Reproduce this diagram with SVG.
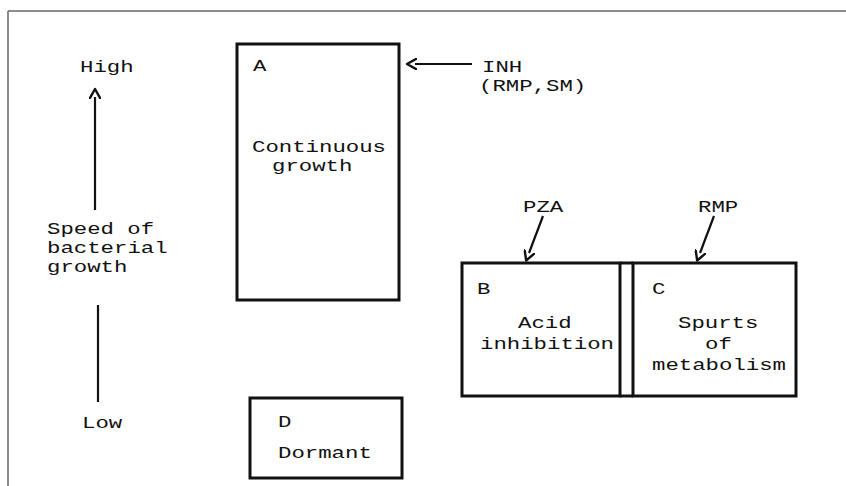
<svg xmlns="http://www.w3.org/2000/svg" width="846" height="486" viewBox="0 0 846 486">
  <style>
    .t { font-family: "Liberation Mono", "DejaVu Sans Mono", monospace; font-size: 16px; fill: #111; }
    .box { fill: none; stroke: #111; stroke-width: 3; }
    .ln { fill: none; stroke: #111; stroke-width: 2.2; }
    .frame { fill: none; stroke: #666; stroke-width: 1.5; }
  </style>
  <defs>
    <marker id="head" viewBox="0 0 12 12" refX="2" refY="6" markerWidth="12" markerHeight="12" markerUnits="userSpaceOnUse" orient="auto">
      <path d="M11,1 L2,6 L11,11" fill="none" stroke="#111" stroke-width="2.4" stroke-linecap="round" stroke-linejoin="round" transform="rotate(180 6 6)"/>
    </marker>
  </defs>
  <rect width="846" height="486" fill="#fff"/>
  <g id="frame">
    <line class="frame" x1="8" y1="11" x2="846" y2="11"/>
    <line class="frame" x1="8" y1="11" x2="8" y2="486"/>
  </g>

  <g id="axis">
    <text class="t" x="80" y="72" textLength="53.6" lengthAdjust="spacingAndGlyphs">High</text>
    <text class="t" x="47" y="234" textLength="107" lengthAdjust="spacingAndGlyphs">Speed of</text>
    <text class="t" x="47" y="253" textLength="120.6" lengthAdjust="spacingAndGlyphs">bacterial</text>
    <text class="t" x="47" y="272" textLength="80.4" lengthAdjust="spacingAndGlyphs">growth</text>
    <text class="t" x="82" y="428" textLength="40.2" lengthAdjust="spacingAndGlyphs">Low</text>
  </g>

  <g id="node-A">
    <rect class="box" x="237" y="44" width="162" height="256"/>
    <text class="t" x="253" y="71" textLength="13.4" lengthAdjust="spacingAndGlyphs">A</text>
    <text class="t" x="252" y="152" textLength="134" lengthAdjust="spacingAndGlyphs">Continuous</text>
    <text class="t" x="272" y="171" textLength="80.4" lengthAdjust="spacingAndGlyphs">growth</text>
  </g>

  <g id="node-B">
    <rect class="box" x="462" y="263" width="158" height="133"/>
    <text class="t" x="477" y="294" textLength="13.4" lengthAdjust="spacingAndGlyphs">B</text>
    <text class="t" x="518" y="328" textLength="53.6" lengthAdjust="spacingAndGlyphs">Acid</text>
    <text class="t" x="480" y="349" textLength="134" lengthAdjust="spacingAndGlyphs">inhibition</text>
  </g>

  <g id="node-C">
    <rect class="box" x="633" y="263" width="163" height="133"/>
    <text class="t" x="652" y="294" textLength="13.4" lengthAdjust="spacingAndGlyphs">C</text>
    <text class="t" x="678" y="328" textLength="80.4" lengthAdjust="spacingAndGlyphs">Spurts</text>
    <text class="t" x="705" y="349" textLength="26.8" lengthAdjust="spacingAndGlyphs">of</text>
    <text class="t" x="652" y="370" textLength="134" lengthAdjust="spacingAndGlyphs">metabolism</text>
  </g>

  <g id="bc-join">
    <line class="box" x1="620" y1="263" x2="633" y2="263"/>
    <line class="box" x1="620" y1="396" x2="633" y2="396"/>
  </g>

  <g id="node-D">
    <rect class="box" x="250" y="398" width="152" height="80"/>
    <text class="t" x="278" y="427" textLength="13.4" lengthAdjust="spacingAndGlyphs">D</text>
    <text class="t" x="278" y="458" textLength="93.8" lengthAdjust="spacingAndGlyphs">Dormant</text>
  </g>

  <g id="labels">
    <text class="t" x="482" y="72" textLength="40.2" lengthAdjust="spacingAndGlyphs">INH</text>
    <text class="t" x="479" y="91" textLength="107.2" lengthAdjust="spacingAndGlyphs">(RMP,SM)</text>
    <text class="t" x="523" y="212" textLength="40.2" lengthAdjust="spacingAndGlyphs">PZA</text>
    <text class="t" x="698" y="212" textLength="40.2" lengthAdjust="spacingAndGlyphs">RMP</text>
  </g>

  <g id="connectors">
    <line class="ln" x1="95" y1="210" x2="95" y2="97" marker-end="url(#head)"/>
    <line class="ln" x1="98" y1="305" x2="98" y2="402"/>
    <line class="ln" x1="472" y1="64" x2="415" y2="64" marker-end="url(#head)"/>
    <line class="ln" x1="543" y1="216" x2="529" y2="253" marker-end="url(#head)"/>
    <line class="ln" x1="714" y1="216" x2="700" y2="253" marker-end="url(#head)"/>
  </g>
</svg>
